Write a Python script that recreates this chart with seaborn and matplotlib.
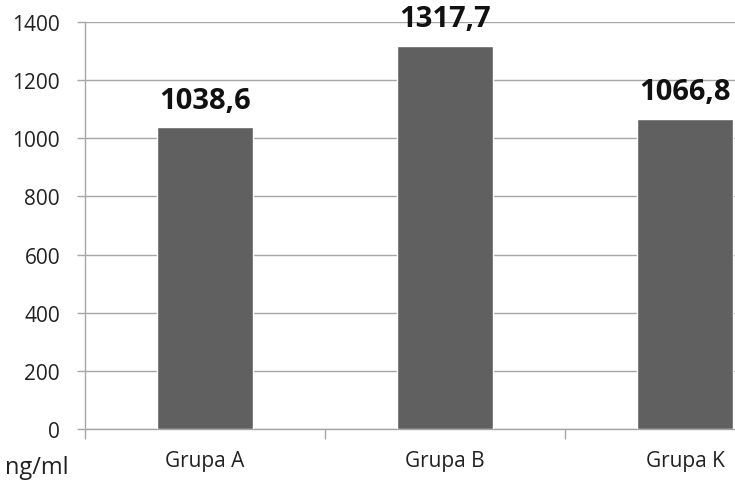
import matplotlib
matplotlib.use("Agg")
import matplotlib.pyplot as plt
import seaborn as sns
import pandas as pd
from matplotlib.ticker import FixedLocator

groups = ["Grupa A", "Grupa B", "Grupa K"]
values = [1038.6, 1317.7, 1066.8]
value_labels = ["1038,6", "1317,7", "1066,8"]
y_ticks = [0, 200, 400, 600, 800, 1000, 1200, 1400]
unit_label = "ng/ml"

df = pd.DataFrame({"group": groups, "value": values})

sns.set_style("white")
plt.rcParams["font.family"] = ["Open Sans", "DejaVu Sans"]

fig = plt.figure(figsize=(7.35, 4.85), dpi=100)
ax = fig.add_axes([85 / 735, 55 / 485, 720 / 735, 407 / 485])

sns.barplot(data=df, x="group", y="value", color="#606060", width=0.4,
            saturation=1, ax=ax, zorder=3)

grid_c = "#a6a6a6"
ax.set_ylim(0, 1400)
ax.set_xlim(-0.5, 2.5)
ax.yaxis.set_major_locator(FixedLocator(y_ticks))
ax.yaxis.grid(True, color=grid_c, linewidth=1, zorder=0)
ax.set_axisbelow(True)

for side in ["top", "right"]:
    ax.spines[side].set_visible(False)
for side in ["left", "bottom"]:
    ax.spines[side].set_color(grid_c)
    ax.spines[side].set_linewidth(1)

ax.tick_params(axis="y", length=6, width=1, color=grid_c, labelsize=15,
               labelcolor="#222222", pad=12, left=True)
ax.tick_params(axis="x", which="major", length=0, labelsize=15,
               labelcolor="#222222", pad=15)
ax.xaxis.set_minor_locator(FixedLocator([-0.5, 0.5, 1.5, 2.5]))
ax.tick_params(axis="x", which="minor", length=7, width=1, color=grid_c,
               bottom=True)

ax.set_xlabel("")
ax.set_ylabel("")

for i, (v, lab) in enumerate(zip(values, value_labels)):
    ax.annotate(lab, (i, v), xytext=(0, 9), textcoords="offset points",
                ha="center", va="bottom", fontsize=21, fontweight="bold",
                color="#111111")

fig.text(5 / 735, 1 - 468 / 485, unit_label, fontsize=17, color="#222222",
         ha="left", va="center")

fig.savefig("out.png", dpi=100)
